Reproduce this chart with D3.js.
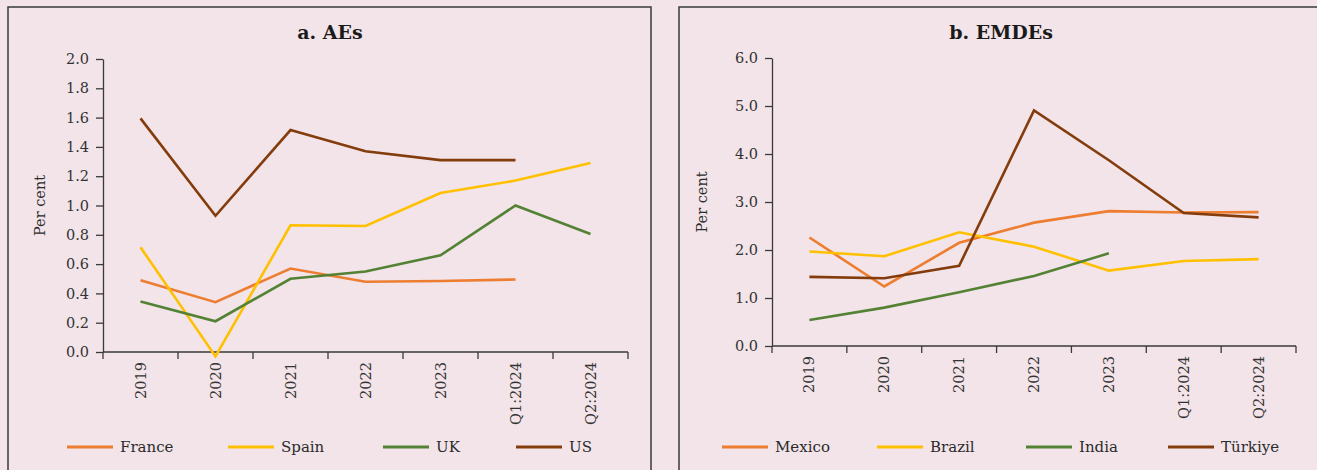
<!DOCTYPE html>
<html>
<head>
<meta charset="utf-8">
<script src="https://cdn.jsdelivr.net/npm/d3@7"></script>
<style>
  body { margin: 0; background: #f2e4e8; }
  svg { display: block; }
  text { font-family: "DejaVu Serif", serif; fill: #2b2b2b; }
  .title { font-weight: bold; font-size: 19px; fill: #1a1a1a; }
  .axis text { font-size: 14.5px; fill: #333; }
  .axis path, .axis line { stroke: #3a3a3a; stroke-width: 1.3; }
</style>
</head>
<body>
<div id="chart"></div>
<script>
// categories shared by both panels
var periods = ["2019", "2020", "2021", "2022", "2023", "Q1:2024", "Q2:2024"];

// panel a: advanced economies (per cent)
var aeNames = ["France", "Spain", "UK", "US"];
var franceVals = [0.49, 0.34, 0.57, 0.48, 0.485, 0.495, null];
var spainVals = [0.715, -0.03, 0.865, 0.86, 1.085, 1.17, 1.29];
var ukVals = [0.345, 0.21, 0.50, 0.55, 0.66, 1.00, 0.805];
var usVals = [1.595, 0.93, 1.515, 1.37, 1.31, 1.31, null];
var aeTicks = ["0.0", "0.2", "0.4", "0.6", "0.8", "1.0", "1.2", "1.4", "1.6", "1.8", "2.0"];

// panel b: emerging market and developing economies (per cent)
var emdeNames = ["Mexico", "Brazil", "India", "Türkiye"];
var mexicoVals = [2.26, 1.24, 2.15, 2.57, 2.81, 2.78, 2.79];
var brazilVals = [1.97, 1.87, 2.37, 2.07, 1.57, 1.77, 1.81];
var indiaVals = [0.54, 0.80, 1.12, 1.46, 1.93, null, null];
var turkiyeVals = [1.44, 1.41, 1.67, 4.91, 3.87, 2.77, 2.68];
var emdeTicks = ["0.0", "1.0", "2.0", "3.0", "4.0", "5.0", "6.0"];

var colors = ["#ed7d31", "#ffc000", "#548235", "#843c0c"];

var width = 1317, height = 470;
var svg = d3.select("#chart").append("svg")
  .attr("width", width).attr("height", height);

// draws one panel
function drawPanel(opt) {
  var g = svg.append("g");

  // frame (open at the bottom)
  g.append("path")
    .attr("d", "M" + opt.frame[0] + "," + height + "V" + opt.frame[1] + "H" + opt.frame[2] + "V" + height)
    .attr("fill", "none").attr("stroke", "#3a3a3a").attr("stroke-width", 1.5);

  g.append("text").attr("class", "title")
    .attr("x", opt.titleX).attr("y", 39)
    .attr("text-anchor", "middle").text(opt.title);

  var x = d3.scaleBand().domain(periods).range([opt.left, opt.right]);
  var ticks = opt.ticks.map(Number);
  var y = d3.scaleLinear().domain([0, d3.max(ticks)]).range([opt.bottom, opt.top]);

  // y axis
  var yAxis = g.append("g").attr("class", "axis")
    .attr("transform", "translate(" + opt.left + ",0)")
    .call(d3.axisLeft(y).tickValues(ticks).tickSize(7).tickSizeOuter(0)
      .tickFormat(function (d, i) { return opt.ticks[i]; }));
  yAxis.selectAll("text").attr("dx", "-4");

  // x axis: ticks sit between categories
  var xg = g.append("g").attr("class", "axis")
    .attr("transform", "translate(0," + opt.bottom + ")");
  xg.append("path").attr("d", "M" + opt.left + ",0H" + opt.right);
  var edges = periods.map(function (p) { return x(p); }).concat([opt.right]);
  xg.selectAll("line").data(edges).enter().append("line")
    .attr("x1", function (d) { return d; }).attr("x2", function (d) { return d; })
    .attr("y1", 0).attr("y2", 7);
  xg.selectAll("text").data(periods).enter().append("text")
    .attr("transform", function (d) {
      return "translate(" + (x(d) + x.bandwidth() / 2 + 5) + ",10) rotate(-90)";
    })
    .attr("text-anchor", "end").text(function (d) { return d; });

  // y label
  g.append("text")
    .attr("transform", "translate(" + opt.ylabX + "," + ((opt.top + opt.bottom) / 2) + ") rotate(-90)")
    .attr("text-anchor", "middle").style("font-size", "14.5px").text("Per cent");

  // lines
  var line = d3.line()
    .defined(function (d) { return d != null; })
    .x(function (d, i) { return x(periods[i]) + x.bandwidth() / 2; })
    .y(function (d) { return y(d); });
  opt.series.forEach(function (s, i) {
    g.append("path").datum(s)
      .attr("fill", "none").attr("stroke", colors[i])
      .attr("stroke-width", 2.6).attr("stroke-linejoin", "miter")
      .attr("d", line);
  });

  // legend
  opt.names.forEach(function (n, i) {
    var lx = opt.legendX[i];
    g.append("line")
      .attr("x1", lx).attr("x2", lx + 46).attr("y1", 447).attr("y2", 447)
      .attr("stroke", colors[i]).attr("stroke-width", 3);
    g.append("text").attr("x", lx + 53).attr("y", 452)
      .style("font-size", "15px").text(n);
  });
}

drawPanel({
  frame: [8, 7, 651], title: "a. AEs", titleX: 330,
  left: 103, right: 628, top: 59, bottom: 352, ylabX: 45,
  ticks: aeTicks, names: aeNames,
  series: [franceVals, spainVals, ukVals, usVals],
  legendX: [67, 228, 383, 516]
});

drawPanel({
  frame: [679, 7, 1330], title: "b. EMDEs", titleX: 1001,
  left: 772, right: 1296, top: 58, bottom: 346, ylabX: 707,
  ticks: emdeTicks, names: emdeNames,
  series: [mexicoVals, brazilVals, indiaVals, turkiyeVals],
  legendX: [722, 877, 1026, 1168]
});
</script>
</body>
</html>
